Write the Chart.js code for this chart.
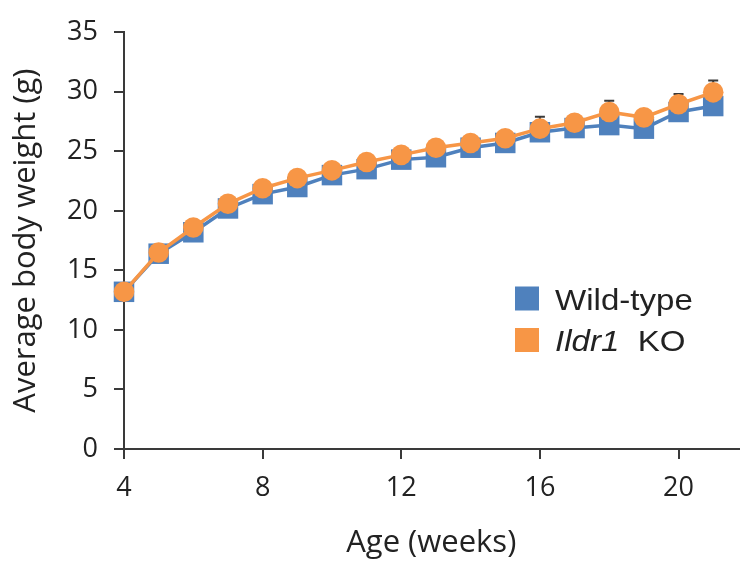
<!DOCTYPE html>
<html>
<head>
<meta charset="utf-8">
<script src="https://cdn.jsdelivr.net/npm/chart.js@4.4.1/dist/chart.umd.min.js"></script>
<style>
  html, body { margin: 0; padding: 0; background: #fff; }
</style>
</head>
<body>
<canvas id="weightChart" width="753" height="562"></canvas>
<script>
// Age (weeks) and average body weight (g) per group
const weeks = [4, 5, 6, 7, 8, 9, 10, 11, 12, 13, 14, 15, 16, 17, 18, 19, 20, 21];
const wildType = [13.2, 16.4, 18.2, 20.2, 21.4, 22.0, 23.0, 23.5, 24.3, 24.5, 25.3, 25.7, 26.6, 26.95, 27.2, 26.9, 28.3, 28.8];
const ildr1Ko = [13.2, 16.5, 18.6, 20.6, 21.9, 22.75, 23.4, 24.1, 24.7, 25.3, 25.7, 26.1, 26.9, 27.4, 28.3, 27.85, 28.95, 29.95];
// error bars (SEM, upper half only is visible)
const wildTypeErr = [0.3, 0.4, 0.4, 0.4, 0.4, 0.4, 0.4, 0.4, 0.4, 0.4, 0.4, 0.4, 0.5, 0.5, 0.6, 0.6, 0.6, 0.6];
const ildr1KoErr = [0.3, 0.3, 0.4, 0.4, 0.4, 0.4, 0.5, 0.5, 0.5, 0.5, 0.6, 0.6, 1.0, 0.6, 0.95, 0.6, 0.85, 1.0];

const xTicks = [4, 8, 12, 16, 20];
const yTicks = [0, 5, 10, 15, 20, 25, 30, 35];

// legend rows: dataset index + label pieces (gene name in italics)
const legendRows = [
    { dataset: 0, parts: [{ text: 'Wild-type' }] },
    { dataset: 1, parts: [{ text: 'Ildr1', italic: true }, { text: '  KO' }] }
];

const BLUE = '#4F81BD';
const ORANGE = '#F79646';
const AXIS = '#3a3a3a';
const TEXT = '#222222';

// draws the "+" error bars underneath the markers
const errorBars = {
    id: 'errorBars',
    beforeDatasetsDraw(chart) {
        const ctx = chart.ctx;
        const yScale = chart.scales.y;
        ctx.save();
        ctx.strokeStyle = AXIS;
        ctx.lineWidth = 2;
        chart.data.datasets.forEach((ds, i) => {
            const meta = chart.getDatasetMeta(i);
            meta.data.forEach((pt, j) => {
                const top = yScale.getPixelForValue(ds.data[j].y + ds.errors[j]);
                ctx.beginPath();
                ctx.moveTo(pt.x, pt.y);
                ctx.lineTo(pt.x, top);
                ctx.moveTo(pt.x - 5, top);
                ctx.lineTo(pt.x + 5, top);
                ctx.stroke();
            });
        });
        ctx.restore();
    }
};

// legend with mixed italic text
const boxLegend = {
    id: 'boxLegend',
    afterDraw(chart, args, opts) {
        const ctx = chart.ctx;
        ctx.save();
        legendRows.forEach((row, r) => {
            const ds = chart.data.datasets[row.dataset];
            const cy = opts.y + r * opts.rowGap;
            ctx.fillStyle = ds.backgroundColor;
            ctx.fillRect(opts.x, cy - opts.box / 2, opts.box, opts.box);
            let tx = opts.textX;
            ctx.fillStyle = TEXT;
            ctx.textBaseline = 'alphabetic';
            ctx.textAlign = 'left';
            row.parts.forEach(p => {
                ctx.font = (p.italic ? 'italic ' : '') + opts.size + 'px "Liberation Sans", Arial, sans-serif';
                ctx.save();
                ctx.translate(tx, cy + opts.baseline);
                ctx.scale(opts.stretch, 1);
                ctx.fillText(p.text, 0, 0);
                ctx.restore();
                tx += ctx.measureText(p.text).width * opts.stretch;
            });
        });
        ctx.restore();
    }
};

const tickFont = { family: '"Open Sans", sans-serif', size: 27 };
const titleFont = { family: '"Open Sans", sans-serif', size: 31 };

new Chart(document.getElementById('weightChart'), {
    type: 'line',
    data: {
        datasets: [
            {
                label: 'Wild-type',
                data: weeks.map((w, i) => ({ x: w, y: wildType[i] })),
                errors: wildTypeErr,
                borderColor: BLUE,
                backgroundColor: BLUE,
                borderWidth: 3.5,
                pointStyle: 'rect',
                pointRadius: 14.5,
                pointHoverRadius: 14.5,
                pointBorderWidth: 0,
                order: 1,
                clip: false
            },
            {
                label: 'Ildr1 KO',
                data: weeks.map((w, i) => ({ x: w, y: ildr1Ko[i] })),
                errors: ildr1KoErr,
                borderColor: ORANGE,
                backgroundColor: ORANGE,
                borderWidth: 3.5,
                pointStyle: 'circle',
                pointRadius: 10.3,
                pointHoverRadius: 10.3,
                pointBorderWidth: 0,
                order: 0,
                clip: false
            }
        ]
    },
    options: {
        responsive: false,
        animation: false,
        devicePixelRatio: 1,
        layout: { padding: { top: 21, right: 0, bottom: 0, left: 0 } },
        plugins: {
            legend: { display: false },
            tooltip: { enabled: false },
            boxLegend: { x: 515, y: 298.5, box: 24, rowGap: 41.5, textX: 555, size: 29, baseline: 11, stretch: 1.14 }
        },
        scales: {
            x: {
                type: 'linear',
                min: 4,
                max: 21.73,
                afterBuildTicks: axis => { axis.ticks = xTicks.map(v => ({ value: v })); },
                afterFit: axis => { axis.height = 113; },
                border: { color: AXIS, width: 2 },
                grid: { drawOnChartArea: false, drawTicks: true, tickLength: 10, color: AXIS, lineWidth: 2 },
                ticks: { font: tickFont, color: TEXT, padding: 13, maxRotation: 0 },
                title: { display: true, text: 'Age (weeks)', font: titleFont, color: TEXT, padding: { top: 4, bottom: 0 } }
            },
            y: {
                min: 0,
                max: 35,
                afterBuildTicks: axis => { axis.ticks = yTicks.map(v => ({ value: v })); },
                afterFit: axis => { axis.width = 124; },
                border: { color: AXIS, width: 2 },
                grid: { drawOnChartArea: false, drawTicks: true, tickLength: 10, color: AXIS, lineWidth: 2 },
                ticks: { font: tickFont, color: TEXT, padding: 16 },
                title: { display: true, text: 'Average body weight (g)', font: titleFont, color: TEXT, padding: { top: 8, bottom: 0 } }
            }
        }
    },
    plugins: [errorBars, boxLegend]
});
</script>
</body>
</html>
